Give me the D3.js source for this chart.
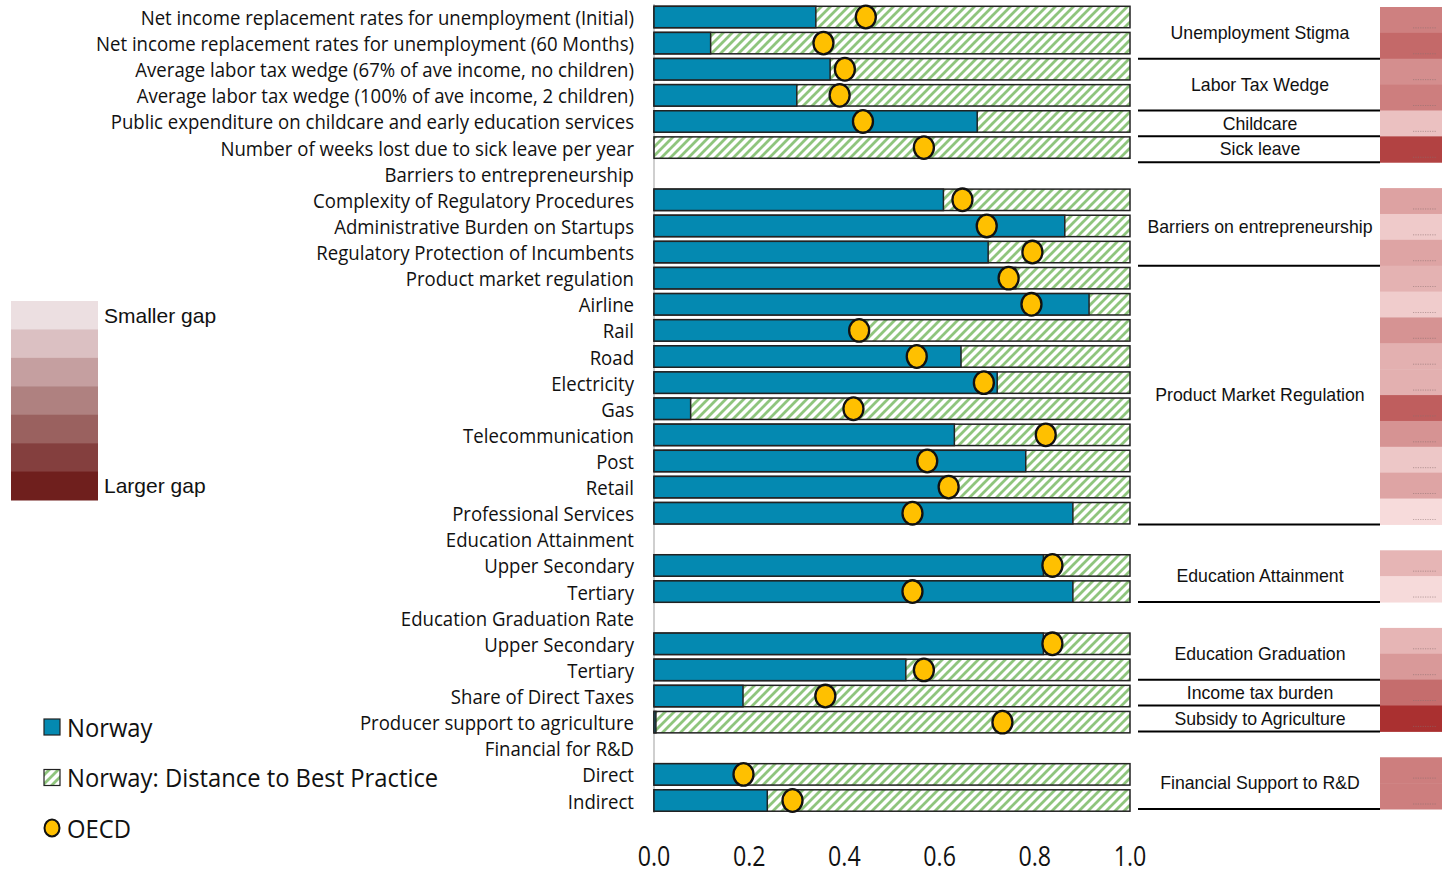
<!DOCTYPE html>
<html><head><meta charset="utf-8">
<script src="https://cdn.jsdelivr.net/npm/d3@7"></script>
<style>body{margin:0;background:#fff} svg{display:block}</style>
</head><body>
<svg id="c" width="1442" height="874"></svg>
<script>
// ---------- data ----------
const labels = [
  "Net income replacement rates for unemployment (Initial)",
  "Net income replacement rates for unemployment (60 Months)",
  "Average labor tax wedge (67% of ave income, no children)",
  "Average labor tax wedge (100% of ave income, 2 children)",
  "Public expenditure on childcare and early education services",
  "Number of weeks lost due to sick leave per year",
  "Barriers to entrepreneurship",
  "Complexity of Regulatory Procedures",
  "Administrative Burden on Startups",
  "Regulatory Protection of Incumbents",
  "Product market regulation",
  "Airline",
  "Rail",
  "Road",
  "Electricity",
  "Gas",
  "Telecommunication",
  "Post",
  "Retail",
  "Professional Services",
  "Education Attainment",
  "Upper Secondary",
  "Tertiary",
  "Education Graduation Rate",
  "Upper Secondary",
  "Tertiary",
  "Share of Direct Taxes",
  "Producer support to agriculture",
  "Financial for R&D",
  "Direct",
  "Indirect"
];
const norway = [0.34, 0.119, 0.37, 0.30, 0.679, 0.0, null, 0.608, 0.863, 0.702, 0.76, 0.914, 0.425, 0.645, 0.721, 0.077, 0.631, 0.781, 0.625, 0.88, null, 0.818, 0.88, null, 0.818, 0.529, 0.187, 0.004, null, 0.184, 0.238];
const oecd   = [0.445, 0.356, 0.401, 0.39, 0.439, 0.567, null, 0.648, 0.699, 0.795, 0.745, 0.793, 0.431, 0.552, 0.693, 0.419, 0.823, 0.574, 0.619, 0.543, null, 0.837, 0.543, null, 0.837, 0.567, 0.36, 0.732, null, 0.188, 0.291];
// relative gap intensity shown in the right-hand strip (0 = small, 1 = large)
const gap    = [0.52, 0.64, 0.45, 0.53, 0.18, 0.85, null, 0.34, 0.13, 0.33, 0.26, 0.12, 0.42, 0.27, 0.27, 0.70, 0.42, 0.15, 0.33, 0.04, null, 0.24, 0.05, null, 0.24, 0.39, 0.62, 0.94, null, 0.53, 0.53];
const groupNames = ["Unemployment Stigma","Labor Tax Wedge","Childcare","Sick leave","Barriers on entrepreneurship","Product Market Regulation","Education Attainment","Education Graduation","Income tax burden","Subsidy to Agriculture","Financial Support to R&D"];
const groupFirst = [0, 2, 4, 5, 7, 10, 21, 24, 26, 27, 29];
const groupLast  = [1, 3, 4, 5, 9, 19, 22, 25, 26, 27, 30];
const xTicks = [0, 0.2, 0.4, 0.6, 0.8, 1.0];
const rampColors = ["#ECDFE1","#DBC0C2","#C59FA0","#AF8180","#9A615F","#843F3E","#6F1F1D"];
const rampLabels = ["Smaller gap", "Larger gap"];
const legendLabels = ["Norway", "Norway: Distance to Best Practice", "OECD"];

// ---------- styles ----------
const TEAL = "#0489B1", HATCH = "#8FC57D", GOLD = "#FFC000";
const labelFont = "'Open Sans', sans-serif";
const SX = 0.93;   // horizontal condensing of the humanist labels
const SXL = 0.915; // legend text
const SXA = 0.86;  // axis tick text

const svg = d3.select("#c");
const defs = svg.append("defs");
const pat = defs.append("pattern").attr("id","hatch").attr("patternUnits","userSpaceOnUse")
  .attr("width",9).attr("height",9);
pat.append("rect").attr("width",9).attr("height",9).attr("fill","#fff");
pat.append("path").attr("d","M-1,1 l2,-2 M0,9 l9,-9 M8,10 l2,-2")
  .attr("stroke",HATCH).attr("stroke-width",2.8);

const rows = d3.range(labels.length);
const x = d3.scaleLinear().domain([0,1]).range([654,1130]);
const y = d3.scaleBand().domain(rows).range([3.94, 813.56]).paddingInner(0.18).paddingOuter(0.09);
const yStrip = d3.scaleBand().domain(rows).range([7, 809]);
const gapColor = d3.scaleLinear().domain([0,1]).range(["#FAE3E3","#A52525"]);

// axis line
svg.append("line").attr("x1",x(0)).attr("x2",x(0)).attr("y1",4).attr("y2",813)
  .attr("stroke","#BFBFBF").attr("stroke-width",1.5);

// left labels
svg.append("g").selectAll("text").data(rows).join("text")
  .attr("transform", i => `translate(634,${y(i)+y.bandwidth()/2}) scale(${SX},1)`)
  .attr("text-anchor","end").attr("dy","0.4em")
  .style("font-family",labelFont).style("font-size","20px").attr("fill","#111")
  .text(i => labels[i]);

const dataRows = rows.filter(i => norway[i] !== null);

// full extent (distance to best practice)
svg.append("g").selectAll("rect").data(dataRows).join("rect")
  .attr("x", x(0)).attr("width", x(1)-x(0))
  .attr("y", i => y(i)).attr("height", y.bandwidth())
  .attr("fill","url(#hatch)").attr("stroke","#222").attr("stroke-width",1.5);

// Norway
svg.append("g").selectAll("rect").data(dataRows.filter(i => norway[i] > 0)).join("rect")
  .attr("x", x(0)).attr("width", i => x(norway[i]) - x(0))
  .attr("y", i => y(i)).attr("height", y.bandwidth())
  .attr("fill",TEAL).attr("stroke","#222").attr("stroke-width",1.5);

// OECD
svg.append("g").selectAll("ellipse").data(dataRows).join("ellipse")
  .attr("cx", i => x(oecd[i])).attr("cy", i => y(i)+y.bandwidth()/2)
  .attr("rx",10).attr("ry",11.3)
  .attr("fill",GOLD).attr("stroke","#111").attr("stroke-width",2.3);

// bottom axis labels
svg.append("g").selectAll("text").data(xTicks).join("text")
  .attr("transform", d => `translate(${x(d)},866) scale(${SXA},1)`)
  .attr("text-anchor","middle")
  .style("font-family",labelFont).style("font-size","27px").attr("fill","#111")
  .text(d => d3.format(".1f")(d));

// right strip
const stripRows = rows.filter(i => gap[i] !== null);
svg.append("g").selectAll("rect").data(stripRows).join("rect")
  .attr("x",1380).attr("width",62)
  .attr("y", i => yStrip(i)).attr("height", yStrip.bandwidth()+0.5)
  .attr("fill", i => gapColor(gap[i]));
svg.append("g").selectAll("line").data(stripRows).join("line")
  .attr("x1",1413).attr("x2",1437)
  .attr("y1", i => yStrip(i)+yStrip.bandwidth()-5).attr("y2", i => yStrip(i)+yStrip.bandwidth()-5)
  .attr("stroke","#8a7070").attr("stroke-width",0.8).attr("stroke-dasharray","1.2,1.2").attr("opacity",0.7);

// group labels and separators
const groups = d3.range(groupNames.length);
svg.append("g").selectAll("line").data(groups).join("line")
  .attr("x1",1138).attr("x2",1380)
  .attr("y1", g => yStrip(groupLast[g]) + yStrip.bandwidth())
  .attr("y2", g => yStrip(groupLast[g]) + yStrip.bandwidth())
  .attr("stroke","#000").attr("stroke-width",2);
svg.append("g").selectAll("text").data(groups).join("text")
  .attr("x",1260)
  .attr("y", g => (yStrip(groupFirst[g]) + yStrip(groupLast[g]) + yStrip.bandwidth())/2)
  .attr("dy","0.35em").attr("text-anchor","middle")
  .style("font-family","'Liberation Sans', Arial, sans-serif").style("font-size","17.7px").attr("fill","#111")
  .text(g => groupNames[g]);

// gap ramp legend
const ry = d3.scaleBand().domain(d3.range(rampColors.length)).range([301,500]);
svg.append("g").selectAll("rect").data(d3.range(rampColors.length)).join("rect")
  .attr("x",11).attr("width",87).attr("y", i => ry(i)).attr("height", ry.bandwidth()+0.5)
  .attr("fill", i => rampColors[i]);
svg.append("text").attr("x",104).attr("y",ry(0)+ry.bandwidth()/2).attr("dy","0.35em")
  .style("font-family","'Liberation Sans', Arial, sans-serif").style("font-size","21px").attr("fill","#111")
  .text(rampLabels[0]);
svg.append("text").attr("x",104).attr("y",ry(rampColors.length-1)+ry.bandwidth()/2).attr("dy","0.35em")
  .style("font-family","'Liberation Sans', Arial, sans-serif").style("font-size","21px").attr("fill","#111")
  .text(rampLabels[1]);

// series legend
const ly = d3.scalePoint().domain(d3.range(3)).range([727, 828]);
const lg = svg.append("g");
lg.append("rect").attr("x",44).attr("y",ly(0)-8).attr("width",16).attr("height",16)
  .attr("fill",TEAL).attr("stroke","#222").attr("stroke-width",1.2);
lg.append("rect").attr("x",44).attr("y",ly(1)-8).attr("width",16).attr("height",16)
  .attr("fill","url(#hatch)").attr("stroke","#222").attr("stroke-width",1.2);
lg.append("ellipse").attr("cx",52).attr("cy",ly(2)).attr("rx",7.5).attr("ry",8.5)
  .attr("fill",GOLD).attr("stroke","#111").attr("stroke-width",2);
lg.selectAll("text").data(d3.range(3)).join("text")
  .attr("transform", i => `translate(67,${ly(i)}) scale(${SXL},1)`)
  .attr("dy","0.38em")
  .style("font-family",labelFont).style("font-size","26px").attr("fill","#111")
  .text(i => legendLabels[i]);
</script>
</body></html>
